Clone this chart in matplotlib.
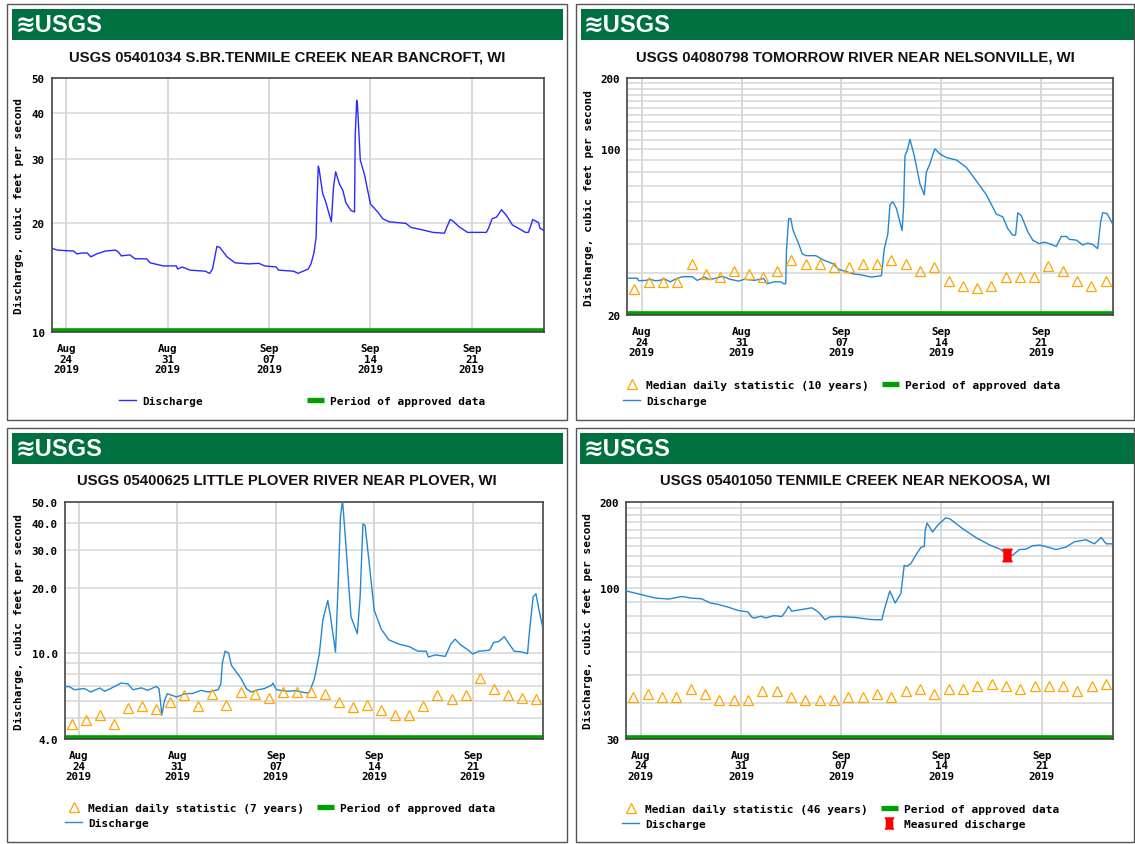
import numpy as np
import matplotlib.pyplot as plt
from matplotlib.patches import Rectangle
from matplotlib.lines import Line2D
from matplotlib.path import Path
from matplotlib.ticker import NullLocator, NullFormatter

W, H = 1135, 845

# ---- data: x = days counted from Aug 24 2019 00:00 ----
tick_days = [0, 7, 14, 21, 28]
tick_labels = ['Aug\n24\n2019', 'Aug\n31\n2019', 'Sep\n07\n2019',
               'Sep\n14\n2019', 'Sep\n21\n2019']
median_days = np.arange(34) - 0.5   # daily statistics, plotted at noon

bancroft_days = [-1.0, -0.6, 0.5, 0.75, 1.1, 1.45, 1.7, 2.1, 2.7, 3.4, 3.6, 3.8,
                 4.4, 4.75, 5.55, 5.8, 6.7, 7.6, 7.7, 8.0, 8.55, 9.6, 9.9, 10.1,
                 10.4, 10.6, 11.1, 11.65, 12.6, 13.3, 13.7, 14.5, 14.65, 15.7,
                 16.0, 16.7, 16.9, 17.1, 17.25, 17.3, 17.4, 17.45, 17.7, 17.9,
                 18.3, 18.45, 18.6, 18.85, 19.1, 19.3, 19.65, 19.9, 19.95, 20.05,
                 20.1, 20.3, 20.6, 21.0, 21.5, 21.85, 22.3, 23.45, 23.8, 24.6,
                 25.3, 26.1, 26.5, 26.7, 27.1, 27.7, 29.0, 29.15, 29.4, 29.7,
                 30.05, 30.4, 30.8, 31.2, 31.7, 31.9, 32.1, 32.2, 32.6, 32.7, 33.0]
bancroft_q = [17.0, 16.8, 16.7, 16.4, 16.5, 16.5, 16.1, 16.4, 16.7, 16.8, 16.6, 16.2,
              16.3, 15.9, 15.9, 15.5, 15.2, 15.2, 14.9, 15.1, 14.8, 14.7, 14.5, 14.9,
              17.2, 17.1, 16.1, 15.5, 15.4, 15.45, 15.2, 15.1, 14.8, 14.7,
              14.5, 14.9, 15.4, 16.5, 18.2, 22.0, 28.6, 28.2, 24.1, 22.9,
              20.1, 25.0, 27.6, 25.6, 24.5, 22.7, 21.6, 21.4, 34.7, 43.4,
              42.5, 29.7, 27.0, 22.5, 21.4, 20.5, 20.1, 19.9, 19.4, 19.1,
              18.8, 18.7, 20.4, 20.2, 19.5, 18.8, 18.8, 19.3, 20.5, 20.7,
              21.7, 20.9, 19.7, 19.3, 18.8, 18.8, 19.8, 20.4, 20.0, 19.3, 19.0]

nelson_days = [-1.0, -0.3, -0.2, 0.3, 0.6, 0.95, 1.3, 1.55, 2.0, 2.4, 2.85, 3.55,
               3.9, 4.4, 4.8, 5.65, 6.2, 6.8, 7.2, 7.9, 8.55, 8.8, 9.3, 9.75,
               9.95, 10.1, 10.15, 10.3, 10.45, 10.6, 11.0, 11.25, 11.5, 12.2,
               12.75, 13.4, 13.8, 14.85, 15.3, 16.1, 16.8, 17.0, 17.25, 17.4,
               17.6, 17.85, 18.25, 18.35, 18.45, 18.6, 18.8, 19.1, 19.5, 19.8,
               19.95, 20.2, 20.4, 20.55, 20.9, 21.35, 22.05, 22.75, 23.45, 24.15,
               24.85, 25.3, 25.65, 26.0, 26.2, 26.35, 26.6, 27.05, 27.4, 27.85,
               28.2, 28.55, 29.05, 29.4, 29.75, 29.97, 30.45, 30.9, 31.25, 31.6,
               31.95, 32.15, 32.3, 32.6, 33.0]
nelson_q = [28.6, 28.6, 27.9, 28.0, 28.3, 27.9, 28.0, 28.5, 27.6, 28.4, 29.0, 29.0,
            28.0, 28.9, 28.2, 29.1, 28.3, 27.8, 28.3, 28.0, 28.5, 27.1, 27.6, 27.6,
            27.1, 27.1, 37.5, 51.0, 51.0, 45.7, 40.0, 36.3, 35.6, 35.6,
            34.1, 32.9, 31.2, 29.8, 29.6, 28.9, 29.3, 38.1, 44.0, 58.4,
            60.1, 56.3, 45.4, 57.3, 94.0, 98.5, 110.3, 94.0, 71.5, 64.3,
            80.2, 87.0, 95.0, 100.5, 95.6, 92.3, 90.2, 83.9, 73.6, 64.3,
            53.3, 51.9, 46.3, 43.4, 43.5, 54.0, 52.5, 44.9, 41.4, 40.0,
            40.6, 40.0, 38.9, 42.9, 42.9, 41.7, 41.4, 39.5, 40.2, 39.7,
            38.1, 49.2, 54.0, 53.6, 48.4]
nelson_median = [25.8, 27.6, 27.6, 27.6, 32.9, 29.9, 28.9, 30.8, 29.9, 28.9, 30.8, 34.1,
                 32.9, 32.9, 31.9, 31.9, 32.9, 32.9, 34.1, 32.9, 30.8, 31.9, 27.9, 26.6,
                 25.9, 26.6, 28.9, 28.9, 28.9, 32.2, 30.8, 27.9, 26.6, 27.9]

plover_days = [-1.04, -0.7, -0.3, 0.4, 0.85, 1.5, 1.85, 2.55, 3.0, 3.5, 3.85, 4.45,
               4.9, 5.5, 5.7, 5.85, 5.9, 6.1, 6.3, 6.95, 7.55, 8.1, 8.7, 9.2,
               9.9, 10.1, 10.2, 10.4, 10.65, 10.85, 11.2, 11.55, 11.9, 12.25,
               12.75, 13.2, 13.7, 13.8, 14.05, 14.85, 15.4, 16.2, 16.4, 16.75,
               17.1, 17.35, 17.7, 17.9, 18.25, 18.45, 18.6, 18.75, 19.0, 19.35,
               19.8, 20.0, 20.2, 20.35, 20.65, 21.0, 21.5, 22.05, 22.75, 23.5,
               24.1, 24.7, 24.85, 25.35, 26.05, 26.45, 26.75, 27.15, 27.65, 28.0,
               28.45, 29.2, 29.5, 29.85, 30.25, 30.6, 30.95, 31.55, 31.9, 32.05,
               32.3, 32.5, 32.7, 32.95]
plover_q = [6.96, 7.0, 6.76, 6.85, 6.6, 6.89, 6.65, 7.0, 7.26, 7.2, 6.76, 6.9,
            6.72, 7.0, 6.85, 5.62, 5.15, 6.04, 6.48, 6.26, 6.48, 6.5, 6.72, 6.6,
            6.76, 7.2, 8.92, 10.2, 10.0, 8.77, 8.17, 7.6, 6.85, 6.6,
            6.76, 6.85, 7.09, 7.26, 6.76, 6.65, 6.7, 6.53, 6.6, 7.6,
            9.9, 14.2, 17.5, 14.7, 10.1, 21.7, 42.5, 51.0, 30.9, 14.7,
            12.3, 18.2, 39.6, 39.0, 25.9, 15.8, 12.9, 11.5, 11.0, 10.7,
            10.2, 10.2, 9.58, 9.8, 9.65, 11.0, 11.6, 10.9, 10.35, 9.9,
            10.2, 10.3, 11.2, 11.3, 11.9, 11.0, 10.2, 10.1, 9.93, 12.8,
            18.2, 18.8, 16.0, 13.4]
plover_median = [4.68, 4.91, 5.18, 4.68, 5.58, 5.66, 5.48, 5.91, 6.42, 5.66, 6.48, 5.76,
                 6.6, 6.48, 6.2, 6.6, 6.6, 6.6, 6.43, 5.93, 5.62, 5.77, 5.43, 5.18,
                 5.18, 5.66, 6.42, 6.11, 6.42, 7.69, 6.81, 6.42, 6.2, 6.11]

nekoosa_days = [-0.98, 0.07, 1.0, 1.95, 2.87, 3.55, 4.26, 4.85, 5.4, 6.1, 6.8, 7.48,
                7.76, 7.9, 8.4, 8.75, 9.3, 9.85, 10.1, 10.32, 10.55, 11.1, 11.95, 12.4,
                12.6, 12.88, 13.23, 13.9, 14.98, 15.9, 16.4, 16.84, 17.0, 17.4,
                17.77, 18.17, 18.3, 18.4, 18.6, 18.87, 19.2, 19.57, 19.8, 19.87,
                20.0, 20.38, 20.73, 21.3, 21.6, 22.48, 23.4, 24.34, 25.16, 25.5,
                25.97, 26.44, 26.9, 27.37, 27.85, 28.42, 29.0, 29.7, 30.28, 31.1,
                31.68, 32.15, 32.5, 32.96]
nekoosa_q = [97.9, 95.1, 92.6, 91.8, 93.7, 92.5, 92.0, 89.0, 88.0, 86.1, 83.8, 82.8,
             79.5, 78.8, 80.0, 78.9, 80.4, 79.8, 82.8, 86.6, 83.3, 84.2, 85.6, 82.8,
             80.7, 77.8, 79.6, 79.8, 79.2, 78.1, 77.8, 77.8, 83.9, 98.0,
             89.0, 96.0, 109.0, 120.2, 119.5, 122.0, 130.4, 139.0, 140.0, 159.3,
             169.0, 157.2, 165.8, 176.2, 174.6, 161.5, 150.5, 141.9, 136.6, 131.5,
             130.4, 136.6, 137.0, 140.9, 141.5, 139.3, 136.6, 139.3, 145.3, 147.8,
             143.0, 150.5, 143.0, 143.0]
nekoosa_median = [41.8, 42.8, 41.8, 41.8, 44.5, 42.8, 41.0, 41.0, 41.0, 43.8, 43.8, 41.8,
                  41.0, 41.0, 41.0, 41.8, 41.8, 42.8, 41.8, 43.8, 44.5, 42.8, 44.5, 44.5,
                  45.8, 46.6, 45.8, 44.5, 45.8, 45.8, 45.8, 43.9, 45.8, 46.6]
nekoosa_meas_day = [25.55]
nekoosa_meas_q = [130.4]

# ---- styles ----
GREEN_BANNER = '#007041'
APPROVED = '#00a000'
GRID = '#d6d6d6'
ORANGE = '#ffa500'
BLUE = '#2288d4'
MONO = 'DejaVu Sans Mono'
NARROW = ['Liberation Sans', 'DejaVu Sans']
YLABEL = 'Discharge, cubic feet per second'

# bowtie-ish marker used by USGS for measured discharge
meas_marker = Path([(-1, 1.35), (1, 1.35), (0.75, 0.95), (0.75, -0.95), (1, -1.35),
                    (-1, -1.35), (-0.75, -0.95), (-0.75, 0.95), (-1, 1.35)], closed=True)

fig = plt.figure(figsize=(W / 100, H / 100), dpi=100)
fig.patch.set_facecolor('white')


def fig_rect(x0, y0, x1, y1, **kw):
    fig.patches.append(Rectangle((x0 / W, 1 - y1 / H), (x1 - x0) / W, (y1 - y0) / H,
                                 transform=fig.transFigure, **kw))


def panel(frame, banner, title, title_y, box, ylim, yticks, ylabels, grid_vals,
          ylabel_x, legend_xy, colspace, series, median=None, measured=None,
          line_color=BLUE, median_label=None):
    fig_rect(*frame, fill=False, ec='#555555', lw=1.0)
    fig_rect(*banner, fc=GREEN_BANNER, ec='none')
    bx0, by0, bx1, by1 = banner
    by_mid = 1 - (by0 + by1) / 2 / H
    fig.text((bx0 + 3) / W, by_mid, '\u224bUSGS', color='white', fontsize=17,
             fontweight='bold', family=NARROW, va='center', ha='left')
    fx0, fy0, fx1, fy1 = frame
    fig.text((fx0 + fx1) / 2 / W, 1 - title_y / H, title, fontsize=10.7,
             fontweight='bold', family=NARROW, ha='center', va='center',
             color='#111111')

    l, t, r, b = box
    ax = fig.add_axes([l / W, 1 - b / H, (r - l) / W, (b - t) / H])
    ax.set_yscale('log')
    ax.set_xlim(-1, 33)
    ax.set_ylim(*ylim)
    ax.yaxis.set_minor_locator(NullLocator())
    ax.yaxis.set_minor_formatter(NullFormatter())
    ax.set_yticks(yticks, ylabels)
    ax.set_xticks(tick_days, tick_labels)
    for v in grid_vals:
        ax.axhline(v, color=GRID, lw=1.1, zorder=0)
    for d in tick_days:
        ax.axvline(d, color=GRID, lw=1.3, zorder=0)
    ax.tick_params(length=0, labelsize=7.8, pad=5)
    ax.tick_params(axis='x', pad=8)
    for lab in ax.get_xticklabels() + ax.get_yticklabels():
        lab.set_family(MONO)
        lab.set_fontweight('bold')
        lab.set_linespacing(1.08)
    for sp in ax.spines.values():
        sp.set_color('#444444')
        sp.set_linewidth(1.2)

    ax.plot([-1, 33], [ylim[0], ylim[0]], color=APPROVED, lw=5.5,
            solid_capstyle='butt', zorder=2.4)
    days, q = series
    ax.plot(days, q, color=line_color, lw=1.0, zorder=3)

    handles = []
    if median is not None:
        ax.plot(median_days, median, ls='none', marker='^', ms=7.3, mfc='none',
                mec=ORANGE, mew=0.9, zorder=4)
        handles.append(Line2D([], [], ls='none', marker='^', ms=7.3, mfc='none',
                              mec=ORANGE, mew=0.9, label=median_label))
    handles.append(Line2D([], [], color=line_color, lw=1.0, label='Discharge'))
    handles.append(Line2D([], [], color=APPROVED, lw=3.8, solid_capstyle='butt',
                          label='Period of approved data'))
    if measured is not None:
        ax.plot(measured[0], measured[1], ls='none', marker=meas_marker, ms=9,
                color='red', zorder=5)
        handles.append(Line2D([], [], ls='none', marker=meas_marker, ms=8,
                              color='red', label='Measured discharge'))
    ax.legend(handles=handles, ncol=2, loc='upper left', frameon=False,
              bbox_to_anchor=(legend_xy[0] / W, 1 - legend_xy[1] / H),
              bbox_transform=fig.transFigure, borderpad=0, borderaxespad=0,
              handlelength=1.55, handletextpad=0.5, columnspacing=colspace,
              labelspacing=0.5, prop={'family': MONO, 'weight': 'bold', 'size': 8})

    fig.text(ylabel_x / W, 1 - (t + b) / 2 / H, YLABEL, rotation=90, family=MONO,
             fontweight='bold', fontsize=8, ha='center', va='center')
    return ax


tens = list(range(30, 200, 10))

panel((7, 5, 567, 421), (12, 10, 563, 41),
      'USGS 05401034 S.BR.TENMILE CREEK NEAR BANCROFT, WI', 57,
      (51.7, 79, 544.3, 333), (10, 50), [10, 20, 30, 40, 50],
      ['10', '20', '30', '40', '50'], [20, 30, 40], 19, (119, 396.5), 9.4,
      (bancroft_days, bancroft_q), line_color='#2a2aff')

panel((576, 5, 1134, 421), (581, 10, 1134, 41),
      'USGS 04080798 TOMORROW RIVER NEAR NELSONVILLE, WI', 57,
      (627.3, 79, 1112.7, 316), (20, 200), [20, 100, 200],
      ['20', '100', '200'], tens, 589, (623, 381), 1.2,
      (nelson_days, nelson_q), median=nelson_median,
      median_label='Median daily statistic (10 years)')

panel((7, 429, 567, 843), (12, 434, 563, 465),
      'USGS 05400625 LITTLE PLOVER RIVER NEAR PLOVER, WI', 481,
      (64.7, 503, 543, 740), (4, 50), [4, 10, 20, 30, 40, 50],
      ['4.0', '10.0', '20.0', '30.0', '40.0', '50.0'],
      [5, 6, 7, 8, 9, 10, 20, 30, 40], 19, (65, 803.5), 1.2,
      (plover_days, plover_q), median=plover_median,
      median_label='Median daily statistic (7 years)')

panel((576, 429, 1134, 843), (580, 434, 1134, 465),
      'USGS 05401050 TENMILE CREEK NEAR NEKOOSA, WI', 481,
      (626.3, 503, 1113.3, 739.5), (30, 200), [30, 100, 200],
      ['30', '100', '200'], [v for v in tens if v >= 40], 588, (622, 804.5), 1.2,
      (nekoosa_days, nekoosa_q), median=nekoosa_median,
      measured=(nekoosa_meas_day, nekoosa_meas_q),
      median_label='Median daily statistic (46 years)')

fig.savefig('out.png', dpi=100)
